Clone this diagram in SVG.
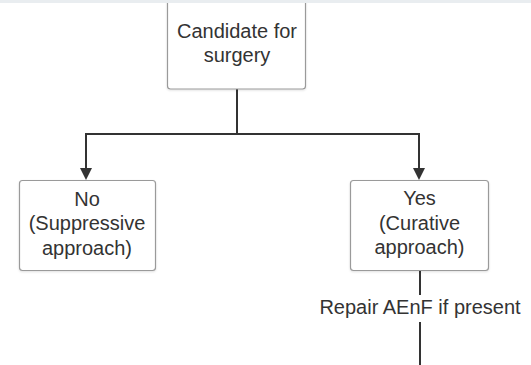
<svg xmlns="http://www.w3.org/2000/svg" width="531" height="365" viewBox="0 0 531 365">
<style>
.box{fill:#ffffff;stroke:#9a9a9a;stroke-width:1.2}
.t{font-family:"Liberation Sans",Arial,sans-serif;font-size:20px;fill:#333333;text-anchor:middle}
.c{fill:none;stroke:#333333;stroke-width:2}
</style>
<defs>
<marker id="ah" viewBox="0 0 12 12" refX="6" refY="12" markerWidth="12" markerHeight="12" markerUnits="userSpaceOnUse" orient="auto-start-reverse">
<path d="M0,0 L12,0 L6,12 Z" fill="#333333"/>
</marker>
<filter id="sh" x="-10%" y="-10%" width="120%" height="130%">
<feDropShadow dx="0" dy="1" stdDeviation="1" flood-color="#000000" flood-opacity="0.12"/>
</filter>
</defs>
<rect x="0" y="0" width="531" height="365" fill="#ffffff"/>
<g id="connectors">
<path class="c" d="M237,89 V134"/>
<path class="c" d="M86,134 H419"/>
<path class="c" d="M86,133 V168"/>
<path d="M80,168 L92,168 L86,180 Z" fill="#333333"/>
<path class="c" d="M419,133 V168"/>
<path d="M413,168 L425,168 L419,180 Z" fill="#333333"/>
<path class="c" d="M420,270 V295"/>
<path class="c" d="M420,322 V365"/>
</g>
<g id="node-candidate">
<rect class="box" x="167.5" y="-5" width="138" height="94" rx="3" filter="url(#sh)"/>
<text class="t" x="237" y="37.5">Candidate for</text>
<text class="t" x="237" y="62">surgery</text>
</g>
<g id="node-no">
<rect class="box" x="19.5" y="180.5" width="136" height="90" rx="3" filter="url(#sh)"/>
<text class="t" x="87" y="205.5">No</text>
<text class="t" x="87" y="230">(Suppressive</text>
<text class="t" x="87" y="254.5">approach)</text>
</g>
<g id="node-yes">
<rect class="box" x="350.5" y="180.5" width="138" height="90" rx="3" filter="url(#sh)"/>
<text class="t" x="419.5" y="205">Yes</text>
<text class="t" x="419.5" y="229.5">(Curative</text>
<text class="t" x="419.5" y="254">approach)</text>
</g>
<g id="label-repair">
<text class="t" x="420" y="313.5">Repair AEnF if present</text>
</g>
<rect x="0" y="0" width="531" height="3" fill="#e9edf0"/>
</svg>
